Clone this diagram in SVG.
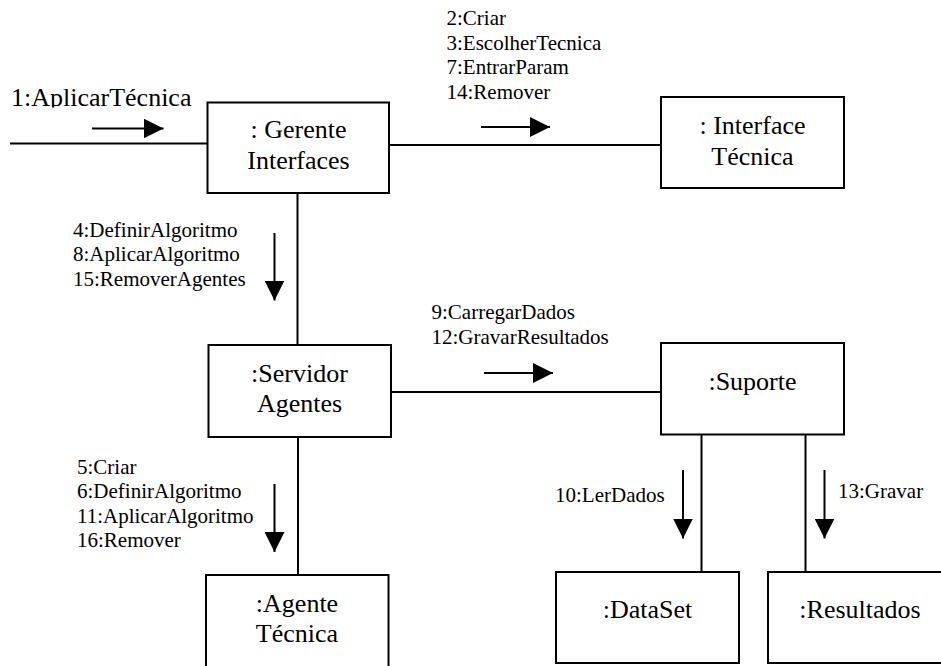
<svg xmlns="http://www.w3.org/2000/svg" width="941" height="666" viewBox="0 0 941 666">
<style>
.box{fill:#fff;stroke:#000;stroke-width:2}
.ln{stroke:#000;stroke-width:2;fill:none}
.arr{stroke:#000;stroke-width:2;fill:none;marker-end:url(#ah)}
</style>
<defs>
<marker id="ah" markerUnits="userSpaceOnUse" markerWidth="20" markerHeight="20" refX="20" refY="10" orient="auto">
<path d="M0,0 L20,10 L0,20 Z" fill="#000"/>
</marker>
<clipPath id="clip1"><rect x="0" y="0" width="941" height="107.5"/></clipPath>
</defs>
<rect width="941" height="666" fill="#fff"/>
<g id="connectors">
<line class="ln" x1="10" y1="143.5" x2="208" y2="143.5"/>
<line class="ln" x1="389" y1="145" x2="661" y2="145"/>
<line class="ln" x1="297.5" y1="193" x2="297.5" y2="345"/>
<line class="ln" x1="391" y1="392" x2="663" y2="392"/>
<line class="ln" x1="298" y1="437" x2="298" y2="575"/>
<line class="ln" x1="701.5" y1="433" x2="701.5" y2="572"/>
<line class="ln" x1="805.5" y1="433" x2="805.5" y2="572"/>
<line class="arr" x1="92" y1="128.5" x2="163.5" y2="128.5"/>
<line class="arr" x1="481" y1="127" x2="550" y2="127"/>
<line class="arr" x1="484" y1="373" x2="553" y2="373"/>
<line class="arr" x1="274.5" y1="233" x2="274.5" y2="300.5"/>
<line class="arr" x1="274.5" y1="484" x2="274.5" y2="552"/>
<line class="arr" x1="683" y1="470" x2="683" y2="538.5"/>
<line class="arr" x1="824.5" y1="470" x2="824.5" y2="538.5"/>
<text font-family="Liberation Serif" font-size="26" x="11" y="106" clip-path="url(#clip1)">1:AplicarTécnica</text>
<text font-family="Liberation Serif" font-size="21" x="446.5" y="25">2:Criar</text>
<text font-family="Liberation Serif" font-size="21" x="446.5" y="49.5">3:EscolherTecnica</text>
<text font-family="Liberation Serif" font-size="21" x="446.5" y="74">7:EntrarParam</text>
<text font-family="Liberation Serif" font-size="21" x="446.5" y="98.5">14:Remover</text>
<text font-family="Liberation Serif" font-size="21" x="73" y="236.5">4:DefinirAlgoritmo</text>
<text font-family="Liberation Serif" font-size="21" x="73" y="261">8:AplicarAlgoritmo</text>
<text font-family="Liberation Serif" font-size="21" x="73" y="285.5">15:RemoverAgentes</text>
<text font-family="Liberation Serif" font-size="21" x="431.5" y="319">9:CarregarDados</text>
<text font-family="Liberation Serif" font-size="21" x="431.5" y="344">12:GravarResultados</text>
<text font-family="Liberation Serif" font-size="21" x="77" y="473.5">5:Criar</text>
<text font-family="Liberation Serif" font-size="21" x="77" y="498">6:DefinirAlgoritmo</text>
<text font-family="Liberation Serif" font-size="21" x="77" y="522.5">11:AplicarAlgoritmo</text>
<text font-family="Liberation Serif" font-size="21" x="77" y="547">16:Remover</text>
<text font-family="Liberation Serif" font-size="21" x="555" y="501.5">10:LerDados</text>
<text font-family="Liberation Serif" font-size="21" x="838" y="498">13:Gravar</text>
</g>
<g id="gerente">
<rect class="box" x="207.5" y="102.5" width="181.5" height="90.5"/>
<text font-family="Liberation Serif" font-size="26" text-anchor="middle" x="298.5" y="138">: Gerente</text>
<text font-family="Liberation Serif" font-size="26" text-anchor="middle" x="298.5" y="169">Interfaces</text>
</g>
<g id="interface">
<rect class="box" x="661" y="97" width="183" height="91"/>
<text font-family="Liberation Serif" font-size="26" text-anchor="middle" x="752.5" y="134">: Interface</text>
<text font-family="Liberation Serif" font-size="26" text-anchor="middle" x="752.5" y="165">Técnica</text>
</g>
<g id="servidor">
<rect class="box" x="208.5" y="345" width="182.5" height="92"/>
<text font-family="Liberation Serif" font-size="26" text-anchor="middle" x="299.5" y="381.5">:Servidor</text>
<text font-family="Liberation Serif" font-size="26" text-anchor="middle" x="299.5" y="411.5">Agentes</text>
</g>
<g id="suporte">
<rect class="box" x="661" y="343" width="183" height="91.5"/>
<text font-family="Liberation Serif" font-size="26" text-anchor="middle" x="752.5" y="390">:Suporte</text>
</g>
<g id="agente">
<rect class="box" x="206" y="575" width="182.5" height="100"/>
<text font-family="Liberation Serif" font-size="26" text-anchor="middle" x="297" y="611.5">:Agente</text>
<text font-family="Liberation Serif" font-size="26" text-anchor="middle" x="297" y="641.5">Técnica</text>
</g>
<g id="dataset">
<rect class="box" x="556" y="572" width="183" height="91"/>
<text font-family="Liberation Serif" font-size="26" text-anchor="middle" x="647.5" y="618">:DataSet</text>
</g>
<g id="resultados">
<rect class="box" x="768" y="572" width="185" height="91"/>
<text font-family="Liberation Serif" font-size="26" text-anchor="middle" x="860" y="618">:Resultados</text>
</g>
</svg>
